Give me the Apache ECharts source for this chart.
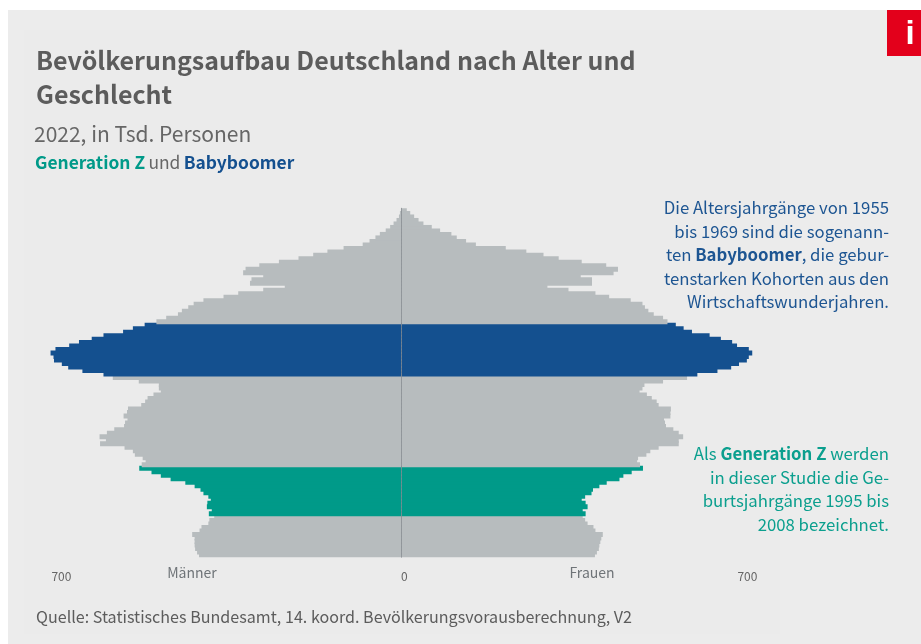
<!DOCTYPE html>
<html>
<head>
<meta charset="utf-8">
<title>Bevölkerungsaufbau</title>
<script src="https://cdn.jsdelivr.net/npm/echarts@6/dist/echarts.min.js"></script>
<style>
  html, body { margin: 0; padding: 0; background: #fff; }
  #chart { width: 921px; height: 644px; }
</style>
</head>
<body>
<div id="chart"></div>
<script>
// Alter 0 bis 99, von unten nach oben
var ages = []
for (let i = 0; i < 100; i++) {
  ages.push(String(i))
}
var maleValues = [
  413, 417, 421, 422, 422, 422, 427, 412, 408, 394, 392, 382,
  393, 387, 397, 396, 389, 394, 404, 410, 422, 441, 471, 491, 510, 535,
  530, 522, 528, 544, 548, 565, 615, 603, 616, 601, 586, 566, 564, 559, 567, 560, 558, 531, 523, 518, 506, 491, 495, 495, 536, 589,
  608, 651, 680, 693, 709, 710, 716, 706, 678, 658, 632, 608, 568, 548, 524,
  500, 480, 456, 448, 435, 424, 404, 363, 333, 282, 238, 309, 306, 282, 323, 318, 290, 250, 210, 180, 151, 118, 79, 65, 53, 44, 32, 23, 16, 10, 5, 3, 1,
]
var femaleValues = [
  395, 399, 403, 404, 406, 408, 411, 396, 392, 380, 375, 370,
  376, 370, 380, 376, 368, 375, 388, 391, 404, 419, 445, 453, 470, 493,
  487, 481, 483, 500, 508, 525, 566, 566, 575, 566, 555, 540, 538, 536, 549, 549, 550, 525, 521, 511, 501, 486, 492, 496, 534, 583,
  604, 645, 673, 689, 705, 709, 716, 709, 685, 675, 652, 629, 593, 576, 560,
  543, 534, 515, 504, 497, 492, 468, 424, 396, 341, 298, 389, 389, 366, 433, 442, 418, 368, 321, 290, 255, 213, 152, 132, 113, 102, 79, 62, 45, 35, 26, 18, 11,
]
var genZRows = [12, 25]
var boomerRows = [52, 66]
var tickValues = [-700, 0, 700]

var FONT = '"Noto Sans CJK SC", "Noto Sans", sans-serif'
var GRAY = '#b7bcbe'
var BLUE = '#14508f'
var GREEN = '#009a89'
var TEXT = '#5c5c5c'

function rowColor(i) {
  if (i >= genZRows[0] && i <= genZRows[1]) return GREEN
  if (i >= boomerRows[0] && i <= boomerRows[1]) return BLUE
  return GRAY
}
function barData(values, sign) {
  return values.map(function (v, i) {
    return { value: sign * v, itemStyle: { color: rowColor(i) } }
  })
}
function label(x, y, text, size, color, weight, align) {
  return {
    type: 'text',
    x: x,
    y: y,
    style: {
      text: text,
      font: (weight || 'normal') + ' ' + size + 'px ' + FONT,
      fill: color,
      textAlign: align || 'left',
      textVerticalAlign: 'middle',
    },
  }
}
// Absatz rechtsbuendig, fette Stellen als rich text
function note(y, lines, color) {
  return {
    type: 'text',
    x: 889,
    y: y,
    style: {
      text: lines.join('\n'),
      fontFamily: FONT,
      fontSize: 16.75,
      lineHeight: 23.5,
      fill: color,
      textAlign: 'right',
      rich: {
        b: { fontFamily: FONT, fontSize: 16.75, fontWeight: 'bold', lineHeight: 23.5, fill: color },
      },
    },
  }
}

var chart = echarts.init(document.getElementById('chart'), null, { renderer: 'canvas' })
var option = {
  animation: false,
  // Balken ueberlappen leicht, damit keine Streifen entstehen
  grid: { left: 9.4, width: 784, top: 208.25, height: 349 },
  xAxis: {
    type: 'value',
    min: -800,
    max: 800,
    splitLine: { show: false },
    axisLine: { show: false },
    axisTick: { show: false },
    axisLabel: {
      customValues: tickValues,
      margin: 12.75,
      padding: [0, 0, 0, 6],
      color: '#666666',
      fontFamily: FONT,
      fontSize: 12,
      formatter: function (v) {
        return String(Math.abs(v))
      },
    },
  },
  yAxis: {
    type: 'category',
    data: ages,
    z: 5,
    axisTick: { show: false },
    axisLabel: { show: false },
    axisLine: { onZero: true, lineStyle: { color: 'rgba(130,135,140,0.75)', width: 1 } },
  },
  series: [
    {
      name: 'Männer',
      type: 'bar',
      barWidth: 5,
      barGap: '-100%',
      data: barData(maleValues, -1),
    },
    {
      name: 'Frauen',
      type: 'bar',
      barWidth: 5,
      barGap: '-100%',
      data: barData(femaleValues, 1),
    },
  ],
  graphic: [
    { type: 'rect', z: -10, shape: { x: 8, y: 10, width: 913, height: 634 }, style: { fill: '#ececec' } },
    { type: 'rect', z: -9, shape: { x: 24, y: 30, width: 756, height: 604 }, style: { fill: '#ebebeb' } },
    { type: 'rect', shape: { x: 887, y: 10, width: 34, height: 46 }, style: { fill: '#e3001b' } },
    {
      type: 'text',
      x: 910,
      y: 35,
      style: { text: 'i', font: 'bold 33px "Liberation Sans", sans-serif', fill: '#fff', textAlign: 'center', textVerticalAlign: 'middle' },
    },
    label(36, 60, 'Bevölkerungsaufbau Deutschland nach Alter und', 25, TEXT, 'bold'),
    label(36, 94, 'Geschlecht', 25, TEXT, 'bold'),
    label(34, 134, '2022, in Tsd. Personen', 21, '#666666'),
    {
      type: 'text',
      x: 35,
      y: 162,
      style: {
        text: '{g|Generation Z} {u|und} {b|Babyboomer}',
        verticalAlign: 'middle',
        rich: {
          g: { fontFamily: FONT, fontSize: 17.4, fontWeight: 'bold', fill: GREEN },
          u: { fontFamily: FONT, fontSize: 17.4, fill: '#666666' },
          b: { fontFamily: FONT, fontSize: 17.4, fontWeight: 'bold', fill: BLUE },
        },
      },
    },
    note(196, [
      'Die Altersjahrgänge von 1955',
      'bis 1969 sind die sogenann-',
      'ten {b|Babyboomer}, die gebur-',
      'tenstarken Kohorten aus den',
      'Wirtschaftswunderjahren.',
    ], '#1d5592'),
    note(442, [
      'Als {b|Generation Z} werden',
      'in dieser Studie die Ge-',
      'burtsjahrgänge 1995 bis',
      '2008 bezeichnet.',
    ], '#0b9f8e'),
    label(192, 573, 'Männer', 14, '#6f7478', 'normal', 'center'),
    label(592, 573, 'Frauen', 14, '#6f7478', 'normal', 'center'),
    label(36, 617, 'Quelle: Statistisches Bundesamt, 14. koord. Bevölkerungsvorausberechnung, V2', 16.1, TEXT),
  ],
}
chart.setOption(option)
</script>
</body>
</html>
